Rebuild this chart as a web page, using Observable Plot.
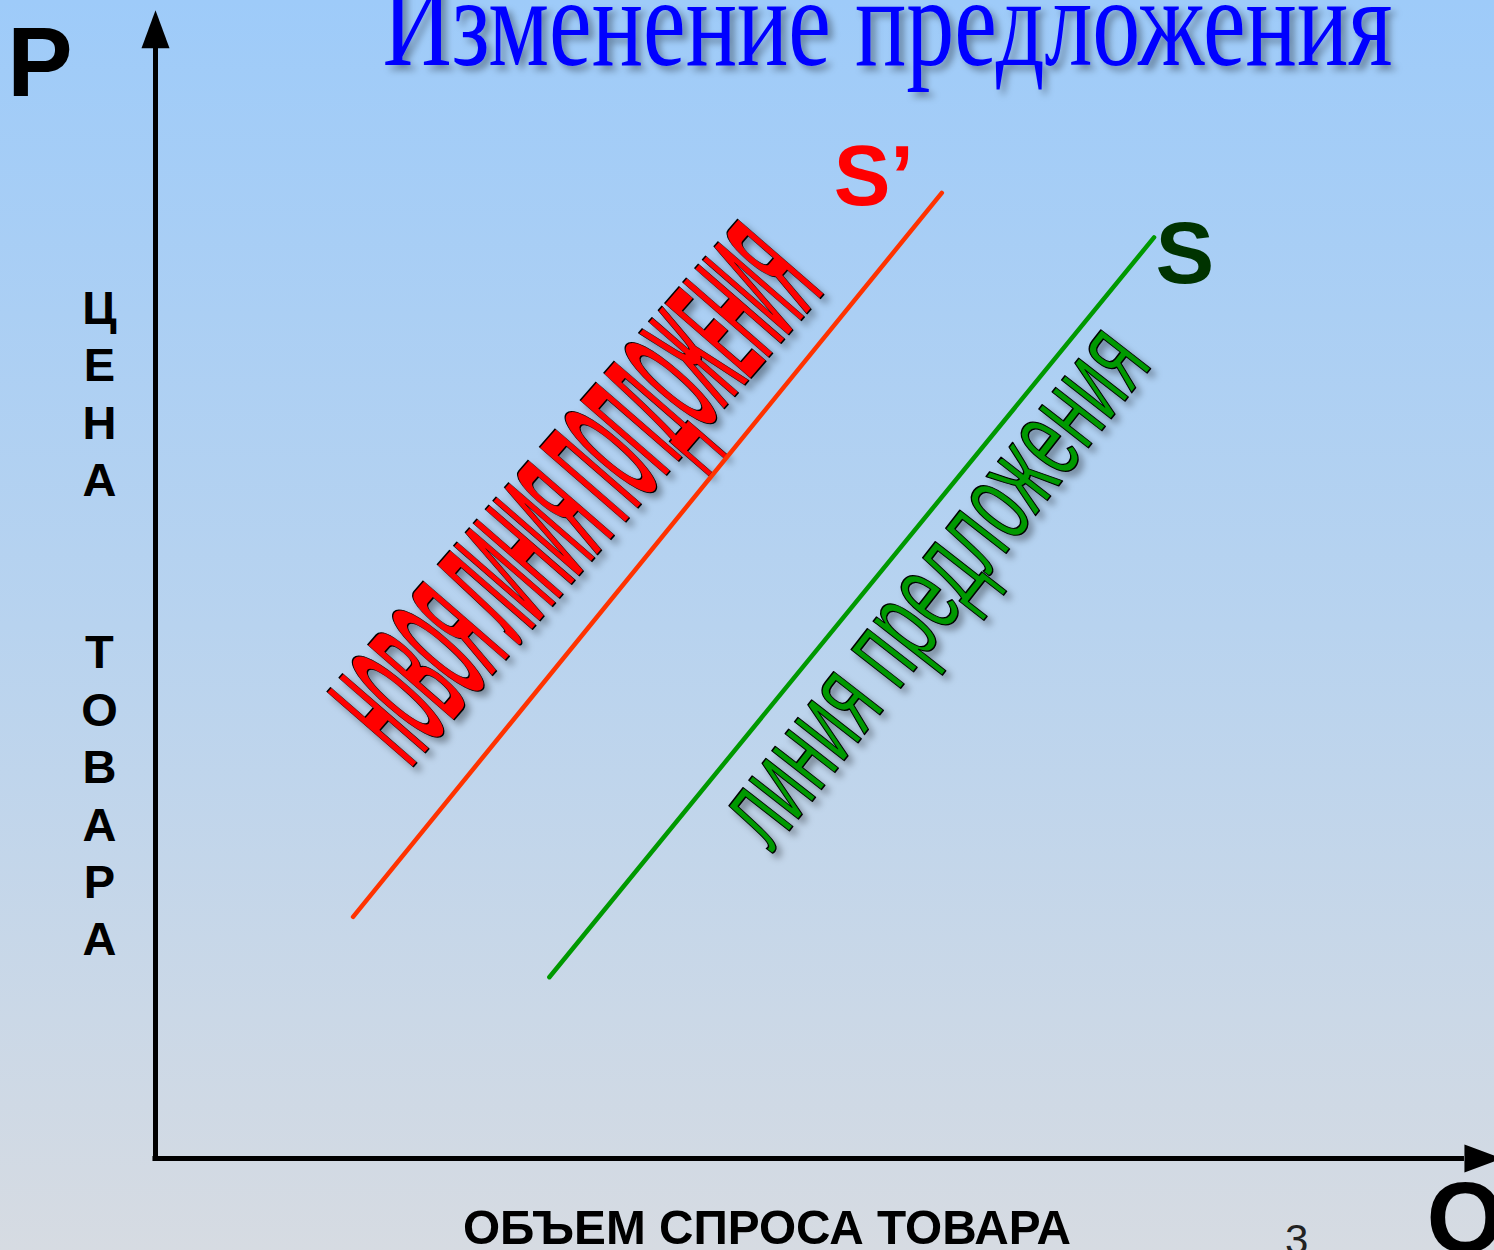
<!DOCTYPE html>
<html lang="ru">
<head>
<meta charset="utf-8">
<script src="https://cdn.jsdelivr.net/npm/d3@7"></script>
<script src="https://cdn.jsdelivr.net/npm/@observablehq/plot@0.6"></script>
<style>
html,body{margin:0;padding:0;overflow:hidden;}
body{width:1494px;height:1250px;background:linear-gradient(to bottom,#9ecbf9 0%,#b8d3ef 50%,#d6dbe2 100%);}
svg{display:block;}
</style>
</head>
<body>
<div id="chart"></div>
<script>
// ---- data (Q = quantity, P = price, arbitrary units) ----
const curveNames = ["S’", "S"];
const newSupplyQ = [14.8, 58.9];   // S'
const newSupplyP = [21.2, 84.7];
const supplyQ = [29.5, 74.8];      // S
const supplyP = [15.9, 80.8];
const axisEndQ = 98.05;            // where the Q arrow head starts
const axisEndP = 97.4;             // where the P arrow head starts

// ---- texts ----
const titleText = "Изменение предложения";
const priceLetters = ["Ц", "Е", "Н", "А", "", "", "Т", "О", "В", "А", "Р", "А"];
const quantityAxisText = "ОБЪЕМ СПРОСА ТОВАРА";
const newSupplyText = "НОВОЯ ЛИНИЯ ПОПДОЖЕНИЯ";
const supplyText = "линия предложения";
const slideNumber = "3";

const lineRows = (name, qs, ps) => qs.map((q, i) => ({curve: name, q, p: ps[i]}));
const curveRows = [
  ...lineRows(curveNames[0], newSupplyQ, newSupplyP),
  ...lineRows(curveNames[1], supplyQ, supplyP)
];

const arrowHead = {
  draw(ctx, size) {
    const r = Math.sqrt(size / Math.PI);
    ctx.moveTo(0, -2.7 * r);
    ctx.lineTo(r, 0);
    ctx.lineTo(-r, 0);
    ctx.closePath();
  }
};

const sans = "Liberation Sans, Arial, Helvetica, sans-serif";
const narrow = "Liberation Sans Narrow, Liberation Sans, Arial, sans-serif";

const chart = Plot.plot({
  width: 1494,
  height: 1250,
  margin: 0,
  x: {domain: [0, 100], range: [155, 1490], axis: null},
  y: {domain: [0, 100], range: [1158, 18], axis: null},
  style: {background: "transparent", overflow: "visible"},
  marks: [
    // title
    Plot.text([titleText], {x: 54.83, y: 95.96, text: d => d,
      fontFamily: "Liberation Serif, Times New Roman, serif", fontSize: 127,
      fill: "#0000ff", textAnchor: "middle", lineAnchor: "bottom"}),
    // WordArt labels
    Plot.text([newSupplyText], {x: 34.68, y: 55.09, text: d => d,
      rotate: -49, fontFamily: narrow, fontWeight: "bold", fontSize: 166,
      fill: "#ff0000", stroke: "#000", strokeWidth: 1.6, paintOrder: "fill",
      textAnchor: "middle", lineAnchor: "bottom"}),
    Plot.text([supplyText], {x: 60.45, y: 48.2, text: d => d,
      rotate: -52, fontFamily: narrow, fontSize: 119,
      fill: "#009900", stroke: "#000", strokeWidth: 1.6, paintOrder: "fill",
      textAnchor: "middle", lineAnchor: "bottom"}),
    // axes
    Plot.ruleX([0], {y1: -0.22, y2: axisEndP, stroke: "#000", strokeWidth: 5}),
    Plot.ruleY([0], {x1: -0.19, x2: axisEndQ, stroke: "#000", strokeWidth: 5}),
    Plot.dot([{q: 0, p: axisEndP, a: 0}, {q: axisEndQ, p: 0, a: 90}], {
      x: "q", y: "p", rotate: "a", r: 14, symbol: arrowHead, fill: "#000", stroke: "none"}),
    // supply curves
    Plot.line(curveRows, {x: "q", y: "p", z: "curve",
      stroke: d => d.curve === curveNames[0] ? "#ff3300" : "#009900", strokeWidth: 4.5}),
    // curve names
    Plot.text([curveNames[0]], {x: 50.8, y: 83.6, text: d => d, fontFamily: sans,
      fontWeight: "bold", fontSize: 85, fill: "#ff0000", textAnchor: "start", lineAnchor: "bottom"}),
    Plot.text([curveNames[1]], {x: 74.9, y: 76.8, text: d => d, fontFamily: sans,
      fontWeight: "bold", fontSize: 88, fill: "#003300", textAnchor: "start", lineAnchor: "bottom"}),
    // axis letters
    Plot.text(["P"], {x: -11.1, y: 93.2, text: d => d, fontFamily: sans, fontWeight: "bold",
      fontSize: 98, fill: "#000", textAnchor: "start", lineAnchor: "bottom"}),
    Plot.text(["Q"], {x: 95.2, y: -8.2, text: d => d, fontFamily: sans, fontWeight: "bold",
      fontSize: 100, fill: "#000", textAnchor: "start", lineAnchor: "bottom"}),
    Plot.text([priceLetters.join("\n")], {x: -4.2, y: 76.77, text: d => d, fontFamily: sans,
      fontWeight: "bold", fontSize: 47, lineHeight: 1.221, fill: "#000",
      textAnchor: "middle", lineAnchor: "top"}),
    Plot.text([quantityAxisText], {x: 45.8, y: -7.5, text: d => d,
      fontFamily: narrow, fontWeight: "bold", fontSize: 49, fill: "#000",
      textAnchor: "middle", lineAnchor: "bottom"}),
    Plot.text([slideNumber], {x: 84.6, y: -8.4, text: d => d, fontFamily: narrow,
      fontSize: 42, fill: "#222", textAnchor: "start", lineAnchor: "bottom"})
  ]
});

// drop shadow + horizontal fitting of the stretched texts
const svg = d3.select(chart);
const defs = svg.insert("defs", ":first-child");
defs.append("filter").attr("id", "shadow")
  .attr("x", "-20%").attr("y", "-20%").attr("width", "140%").attr("height", "140%")
  .append("feDropShadow")
  .attr("dx", 5).attr("dy", 5).attr("stdDeviation", 3.5)
  .attr("flood-color", "#000").attr("flood-opacity", 0.35);

const fit = new Map([
  [titleText, 1010],
  [newSupplyText, 632],
  [supplyText, 620],
  [quantityAxisText, 608]
]);
const shadowed = new Set([titleText, newSupplyText, supplyText]);
svg.selectAll("text").each(function () {
  const t = this.textContent;
  if (fit.has(t)) {
    this.setAttribute("textLength", fit.get(t));
    this.setAttribute("lengthAdjust", "spacingAndGlyphs");
  }
  if (shadowed.has(t)) this.parentNode.setAttribute("filter", "url(#shadow)");
});

document.getElementById("chart").appendChild(chart);
</script>
</body>
</html>
